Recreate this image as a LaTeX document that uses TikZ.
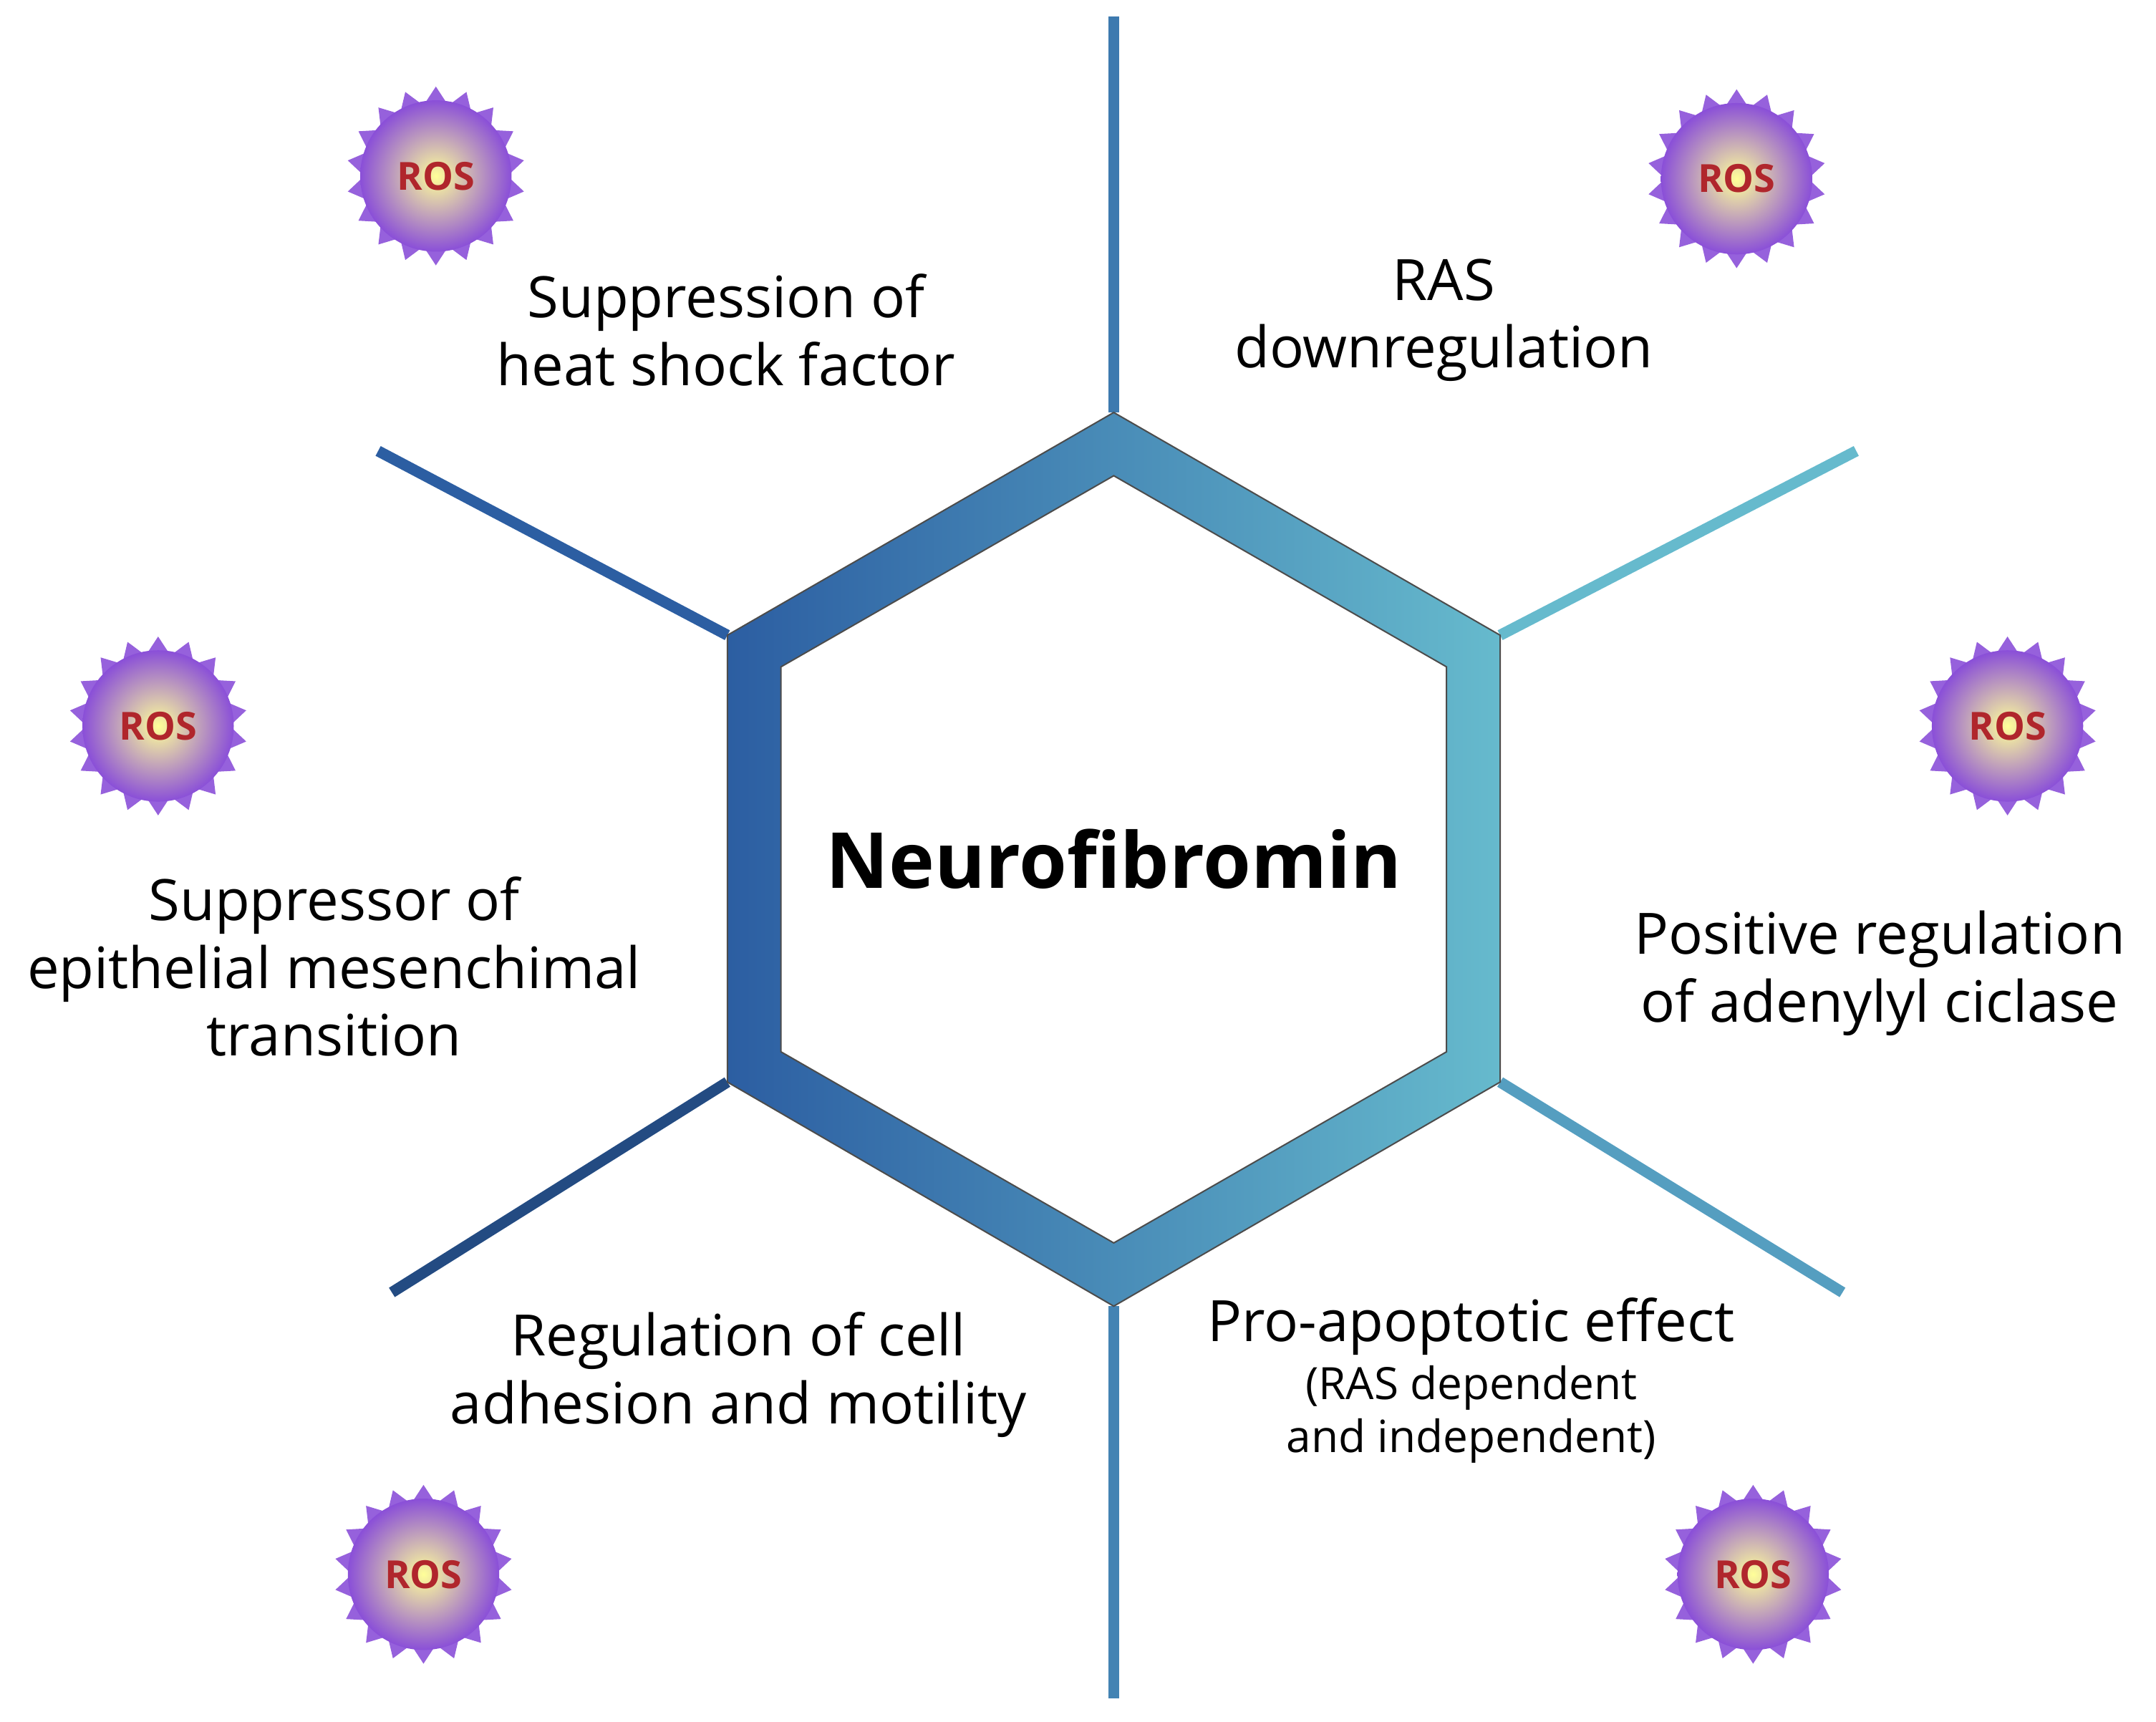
\documentclass[tikz,border=0pt]{standalone}
\usepackage{fontspec}
\setmainfont{Open Sans}
\usetikzlibrary{shapes.geometric,positioning}

\definecolor{hexdark}{HTML}{2C5EA2}
\definecolor{hexlight}{HTML}{66BACD}
\definecolor{rospurple}{HTML}{8A4FD8}
\definecolor{rosred}{HTML}{B0262C}

\tikzset{
  label/.style={align=center, font=\fontsize{11.8}{14}\selectfont},
  small/.style={align=center, font=\fontsize{9.2}{11}\selectfont},
  spoke/.style={line width=0.8mm},
  spikes/.style={star, star points=18, star point ratio=1.25, minimum size=1.3cm,
        fill=rospurple!90, draw=none, inner sep=0pt},
  ros/.style={circle, minimum size=1.1cm, inner sep=0pt,
        inner color=yellow!40!white, outer color=rospurple,
        text=rosred, font=\bfseries\fontsize{8}{9}\selectfont}
}

\newcommand{\rosat}[2]{%
  \node[spikes] (#1s) at #2 {};
  \node[ros] (#1) at #2 {ROS};
}

\begin{document}
\begin{tikzpicture}[x=0.01cm,y=-0.01cm]
  \useasboundingbox (0,0) rectangle (1568,1252);

  % hexagon corners
  \coordinate (T)  at (810,300);
  \coordinate (UR) at (1091,462);
  \coordinate (LR) at (1091,787);
  \coordinate (B)  at (810,950);
  \coordinate (LL) at (529,787);
  \coordinate (UL) at (529,462);

  % spoke ends
  \coordinate (eT)  at (810,12);
  \coordinate (eUR) at (1350,328);
  \coordinate (eLR) at (1340,940);
  \coordinate (eB)  at (810,1235);
  \coordinate (eLL) at (285,940);
  \coordinate (eUL) at (275,328);

  \draw[spoke, color=hexdark!70!hexlight] (T) -- (eT);
  \draw[spoke, color=hexlight] (UR) -- (eUR);
  \draw[spoke, color=hexlight!70!hexdark] (LR) -- (eLR);
  \draw[spoke, color=hexdark!60!hexlight] (B) -- (eB);
  \draw[spoke, color=hexdark!80!black] (LL) -- (eLL);
  \draw[spoke, color=hexdark] (UL) -- (eUL);

  % hexagon band
  \shade[left color=hexdark, right color=hexlight, even odd rule, draw=gray!60!black, line width=0.3pt]
    (810,300) -- (1091,462) -- (1091,787) -- (810,950) -- (529,787) -- (529,462) -- cycle
    (810,346) -- (1052,485) -- (1052,765) -- (810,904) -- (568,765) -- (568,485) -- cycle;

  \node[font=\bfseries\fontsize{16}{19}\selectfont] (nf) at (810,625) {Neurofibromin};

  % labels
  \node[label] (hsf) at (528,240) {Suppression of\\heat shock factor};
  \node[label] (ras) at (1050,233) {RAS\\downregulation};
  \node[label] (emt) at (243,703) {Suppressor of\\epithelial mesenchimal\\transition};
  \node[label] (adc) at (1367,708) {Positive regulation\\of adenylyl ciclase};
  \node[label] (adh) at (537,1000) {Regulation of cell\\adhesion and motility};
  \node[label] (apo) at (1070,965) {Pro-apoptotic effect};
  \node[small, below=-5pt of apo] (apo2) {(RAS dependent\\and independent)};

  % ROS
  \rosat{r1}{(317,128)}
  \rosat{r2}{(1263,130)}
  \rosat{r3}{(115,528)}
  \rosat{r4}{(1460,528)}
  \rosat{r5}{(308,1145)}
  \rosat{r6}{(1275,1145)}
\end{tikzpicture}
\end{document}
